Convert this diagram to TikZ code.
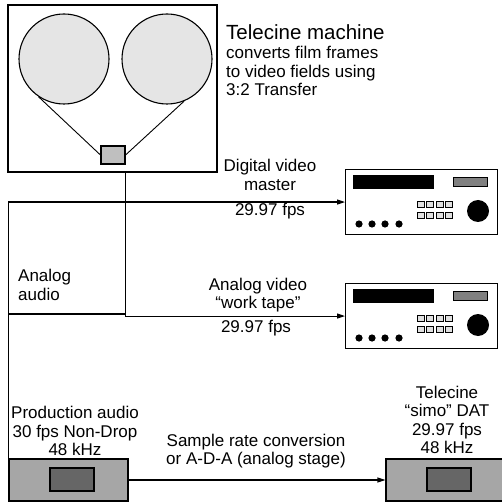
\documentclass[tikz,border=0pt]{standalone}
\usepackage{fontspec}
\setmainfont{Liberation Sans}
\usetikzlibrary{arrows.meta}

\begin{document}
\begin{tikzpicture}[x=1pt,y=-1pt]

    % Page: 502 x 502, 1 unit = 1 pt, y runs downwards
    \useasboundingbox (0,0) rectangle (502,502);

    % Styles
    \tikzset{
        frame/.style={draw, line width=1.1pt, inner sep=0pt},
        lbl/.style={font=\fontsize{17}{18.5}\selectfont, align=center, inner sep=0pt},
        link/.style={line width=1.1pt},
        feed/.style={link, -{Triangle[length=8pt,width=5pt]}},
        keycap/.style={draw, fill=black!12, line width=0.6pt, inner sep=0pt,
            minimum width=7pt, minimum height=6pt}
    }

    % --- Telecine machine ---
    \node[frame, minimum width=209pt, minimum height=167pt] (telecine) at (112.5,88.5) {};
    \node[frame, circle, fill=black!10, minimum size=90pt] (lreel) at (64,59) {};
    \node[frame, circle, fill=black!10, minimum size=90pt] (rreel) at (167,59) {};
    \node[frame, fill=black!25, minimum width=24pt, minimum height=18pt] (gate) at (113,155) {};
    \draw[line width=0.9pt] (gate.west) -- (lreel.236);
    \draw[line width=0.9pt] (gate.east) -- (rreel.292);

    \node[font=\fontsize{20.5}{22}\selectfont, anchor=west, inner sep=0pt] (ttl) at (226,32) {Telecine machine};
    \node[lbl, align=left, anchor=west] (ttlsub) at (226,71)
        {converts film frames\\to video fields using\\3:2 Transfer};

    % --- Video decks (x = 345..497) ---
    \foreach \nm/\yt in {vtra/169, vtrb/283} {
        \node[frame, minimum width=152pt, minimum height=65pt, anchor=north west] (\nm) at (345,\yt) {};
        \begin{scope}[shift={(345,\yt)}]
            \fill (8,6) rectangle (89,20);
            \draw[fill=black!50, line width=0.8pt] (108,8) rectangle (142,17);
            \foreach \i in {0,...,3} {
                \node[keycap] at (75.5+9.5*\i,35) {};
                \node[keycap] at (75.5+9.5*\i,46) {};
            }
            \fill (133,42) circle (11);
            \foreach \dx in {14,27,40,54}
                \fill (\dx,55) circle (3.6);
        \end{scope}
    }

    % --- Audio boxes ---
    \node[frame, fill=black!35, minimum width=119pt, minimum height=42pt] (prod) at (68.5,480) {};
    \node[frame, fill=black!60, minimum width=44pt, minimum height=23pt] (prodwin) at (72,479.5) {};
    \node[frame, fill=black!35, minimum width=119pt, minimum height=42pt] (simo) at (445.5,480) {};
    \node[frame, fill=black!60, minimum width=44pt, minimum height=23pt] (simowin) at (449,479.5) {};

    % --- Connectors ---
    \coordinate (atap) at (125,314);
    \draw[feed] (gate.east |- telecine.south) |- (vtrb.west);
    \draw[feed] (prod.north west) |- (vtra.west);
    \draw[link] (atap -| prod.north west) -- (atap);
    \draw[feed] (prod.east) -- (simo.west);

    % --- Labels ---
    \node[lbl] (dvm) at (270,175) {Digital video\\master};
    \node[lbl] (dvmfps) at (270,211) {29.97 fps};
    \node[lbl] (avw) at (258,295) {Analog video\\“work tape”};
    \node[lbl] (avwfps) at (256,328) {29.97 fps};
    \node[lbl, align=left, anchor=west] (aaud) at (18,285) {Analog\\audio};
    \node[lbl] (prodlbl) at (75,431) {Production audio\\30 fps Non-Drop\\48 kHz};
    \node[lbl] (src) at (256,451) {Sample rate conversion\\or A-D-A (analog stage)};
    \node[lbl] (simolbl) at (447,420) {Telecine\\“simo” DAT\\29.97 fps\\48 kHz};

\end{tikzpicture}
\end{document}
